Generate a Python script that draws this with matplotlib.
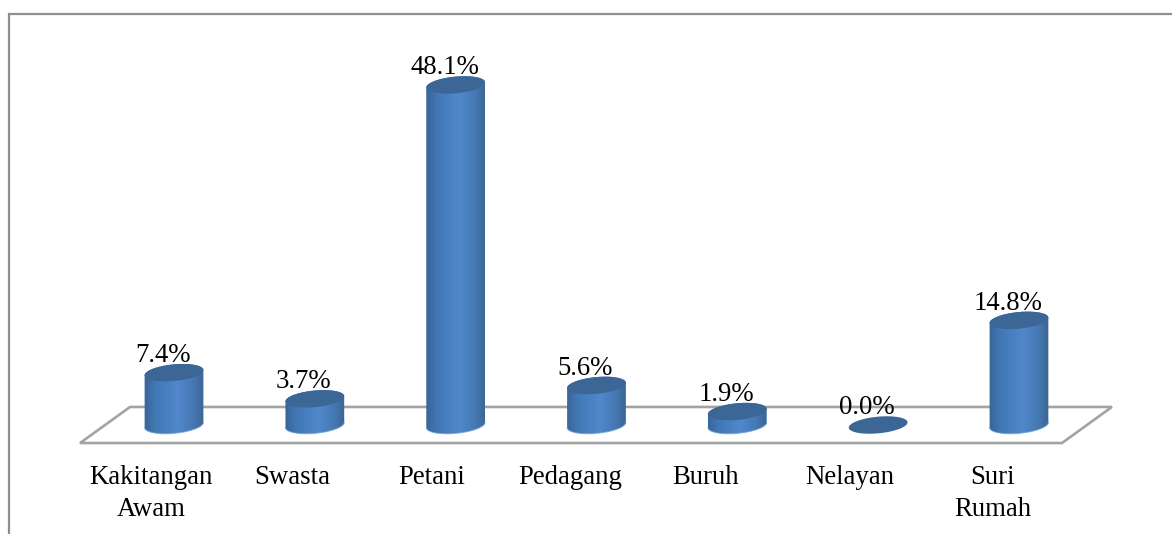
import numpy as np
import matplotlib
matplotlib.use('Agg')
import matplotlib.pyplot as plt
from matplotlib.colors import LinearSegmentedColormap
from matplotlib.lines import Line2D
from matplotlib.patches import PathPatch, Polygon
from matplotlib.path import Path

categories = ['Kakitangan\nAwam', 'Swasta', 'Petani', 'Pedagang', 'Buruh', 'Nelayan', 'Suri\nRumah']
percent = [7.4, 3.7, 48.1, 5.6, 1.9, 0.0, 14.8]

W, H = 1172, 534
PX_X = 140.83  # pixels per category
PX_Y = 7.07    # pixels per percent
X0, Y0 = 174, 425  # pixel of first bar, zero level

plt.rcParams['font.family'] = ['Liberation Serif', 'DejaVu Serif']
FS = 19.3

fig = plt.figure(figsize=(W / 100, H / 100), dpi=100, facecolor='white')
ax = fig.add_axes([0, 0, 1, 1])
ax.set_xlim(-X0 / PX_X, (W - X0) / PX_X)
ax.set_ylim(-(H - Y0) / PX_Y, Y0 / PX_Y)
ax.axis('off')

# frame, only top and left show in the picture
frame = '#8f8f8f'
fig.add_artist(Line2D([9 / W, 9 / W, 1], [0, 1 - 14 / H, 1 - 14 / H], color=frame, lw=1.6,
                      solid_joinstyle='miter'))

# floor
floor = Polygon([(-0.667, -2.55), (6.305, -2.55), (6.66, 2.55), (-0.312, 2.55)], closed=True,
                facecolor='none', edgecolor='#a3a3a3', lw=1.9, zorder=1)
ax.add_patch(floor)

body_cmap = LinearSegmentedColormap.from_list(
    'body', [(0, '#386494'), (0.18, '#4177b4'), (0.55, '#5088cc'), (0.8, '#4679b4'), (1, '#3a6490')])
top_color = '#3b6696'

A, B, TILT = 29.5, 8.3, np.radians(5.5)


def ellipse_xy(x, y, t):
    """Tilted ellipse points, in data units"""
    ex = A * np.cos(t) * np.cos(TILT) - B * np.sin(t) * np.sin(TILT)
    ey = A * np.cos(t) * np.sin(TILT) + B * np.sin(t) * np.cos(TILT)
    return x + ex / PX_X, y + ey / PX_Y


def draw_cylinder(x, value):
    t = np.linspace(0, 2 * np.pi, 120)
    if value > 0:
        low = np.linspace(np.pi, 2 * np.pi, 60)
        high = np.linspace(0, np.pi, 60)
        bx, by = ellipse_xy(x, 0, low)
        tx, ty = ellipse_xy(x, value, high)
        verts = np.column_stack([np.r_[bx, tx], np.r_[by, ty]])
        clip = PathPatch(Path(np.vstack([verts, verts[0]]), closed=True), facecolor='none',
                         edgecolor='none', transform=ax.transData)
        ax.add_patch(clip)
        half = A * 1.02 / PX_X
        grad = np.linspace(0, 1, 256).reshape(1, -1)
        im = ax.imshow(grad, cmap=body_cmap, aspect='auto', zorder=2,
                       extent=[x - half, x + half, -12 / PX_Y, value + 12 / PX_Y])
        im.set_clip_path(clip)
        # light rim along the base
        ax.plot(bx, by, color='#6f9fd8', lw=0.8, alpha=0.7, zorder=2.5)
    ex, ey = ellipse_xy(x, value, t)
    ax.fill(ex, ey, color=top_color, lw=0, zorder=3)


for i, v in enumerate(percent):
    draw_cylinder(i, v)
    # labels sit up and to the left of the top face
    ax.annotate('%.1f%%' % v, (i, v), xytext=(-11, 17), textcoords='offset pixels', ha='center',
                va='center', fontsize=FS, color='black', zorder=4)

# category labels are shifted left of the bars, spacing a bit uneven like the original
nudge = [-23, -23, -24, -26, -32, -28, -26]
for i, name in enumerate(categories):
    ax.annotate(name, (i, 0), xytext=(nudge[i], -40), textcoords='offset pixels', ha='center',
                va='top', fontsize=FS, color='black', linespacing=1.36, zorder=4)

ax.set_xlim(-X0 / PX_X, (W - X0) / PX_X)
ax.set_ylim(-(H - Y0) / PX_Y, Y0 / PX_Y)
fig.savefig('out.png', dpi=100, facecolor='white')
